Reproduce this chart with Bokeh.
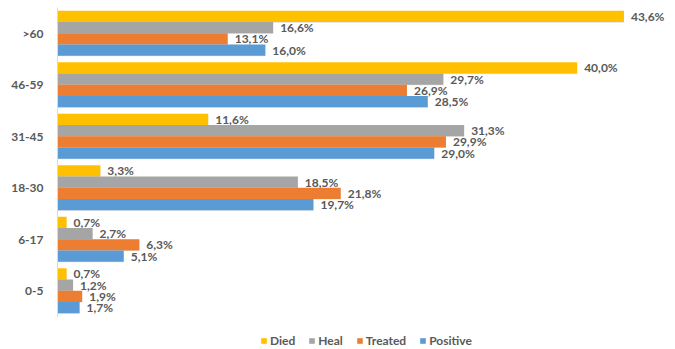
from bokeh.plotting import figure
from bokeh.layouts import column
from bokeh.models import ColumnDataSource, FactorRange, Range1d, Legend, LegendItem
from bokeh.transform import dodge
from bokeh.core.properties import value
from bokeh.embed import file_html
from bokeh.resources import INLINE

categories = ["0-5", "6-17", "18-30", "31-45", "46-59", ">60"]
died = [0.7, 0.7, 3.3, 11.6, 40.0, 43.6]
heal = [1.2, 2.7, 18.5, 31.3, 29.7, 16.6]
treated = [1.9, 6.3, 21.8, 29.9, 26.9, 13.1]
positive = [1.7, 5.1, 19.7, 29.0, 28.5, 16.0]

series = [
    ("Died", died, "#FFC000", 0.327),
    ("Heal", heal, "#A5A5A5", 0.109),
    ("Treated", treated, "#ED7D31", -0.109),
    ("Positive", positive, "#5B9BD5", -0.327),
]

def fmt(v):
    return ("%.1f%%" % v).replace(".", ",")

data = {"cat": categories}
for name, vals, _, _ in series:
    data[name] = vals
    data[name + "_lbl"] = [fmt(v) for v in vals]
src = ColumnDataSource(data)

p = figure(width=675, height=317, y_range=FactorRange(factors=categories, range_padding=0),
           x_range=Range1d(0, 46.8), output_backend="svg", toolbar_location=None,
           min_border_left=57, min_border_right=10, min_border_top=7, min_border_bottom=1)
p.outline_line_color = None
p.xgrid.visible = False
p.ygrid.visible = False
p.xaxis.visible = False

# small strip that holds the legend (its bars have zero height, only the legend shows)
q = figure(width=675, height=32, y_range=FactorRange(factors=categories),
           x_range=Range1d(0, 46.8), output_backend="svg", toolbar_location=None,
           min_border_left=57, min_border_right=10, min_border_top=0, min_border_bottom=0)
q.outline_line_color = None
q.xgrid.visible = False
q.ygrid.visible = False
q.xaxis.visible = False
q.yaxis.visible = False

bh = 0.218
items = []
for name, vals, color, off in series:
    p.hbar(y=dodge("cat", off - 0.012, range=p.y_range), right=name, left=0, height=bh,
           source=src, fill_color="#000000", fill_alpha=0.12, line_color=None)
    p.hbar(y=dodge("cat", off, range=p.y_range), right=name, left=0, height=bh,
           source=src, fill_color=color, line_color=None)
    r = q.hbar(y="cat", right=name, left=0, height=0, source=src,
               fill_color=color, line_color=None)
    items.append(LegendItem(label=name, renderers=[r]))
    p.text(x=name, y=dodge("cat", off, range=p.y_range), text=name + "_lbl", source=src,
           x_offset=7, text_baseline="middle", text_align="left",
           text_font=value("Lato"), text_font_style="bold", text_font_size="12px",
           text_color="#595959")

ax = p.yaxis[0]
ax.axis_line_color = "#D9D9D9"
ax.major_tick_line_color = None
ax.minor_tick_line_color = None
ax.major_tick_out = 0
ax.major_label_standoff = 14
ax.major_label_text_font = "Lato"
ax.major_label_text_font_style = "bold"
ax.major_label_text_font_size = "12px"
ax.major_label_text_color = "#595959"

legend = Legend(items=items, orientation="horizontal", location=(203, 1),
                glyph_width=7, glyph_height=7, label_standoff=3, spacing=13,
                padding=0, margin=0, label_height=12,
                label_text_font="Lato", label_text_font_style="bold",
                label_text_font_size="12px", label_text_color="#595959",
                border_line_color=None, background_fill_alpha=0)
q.add_layout(legend)

layout = column(p, q, spacing=0)
open("out.html", "w").write(file_html(layout, INLINE))
